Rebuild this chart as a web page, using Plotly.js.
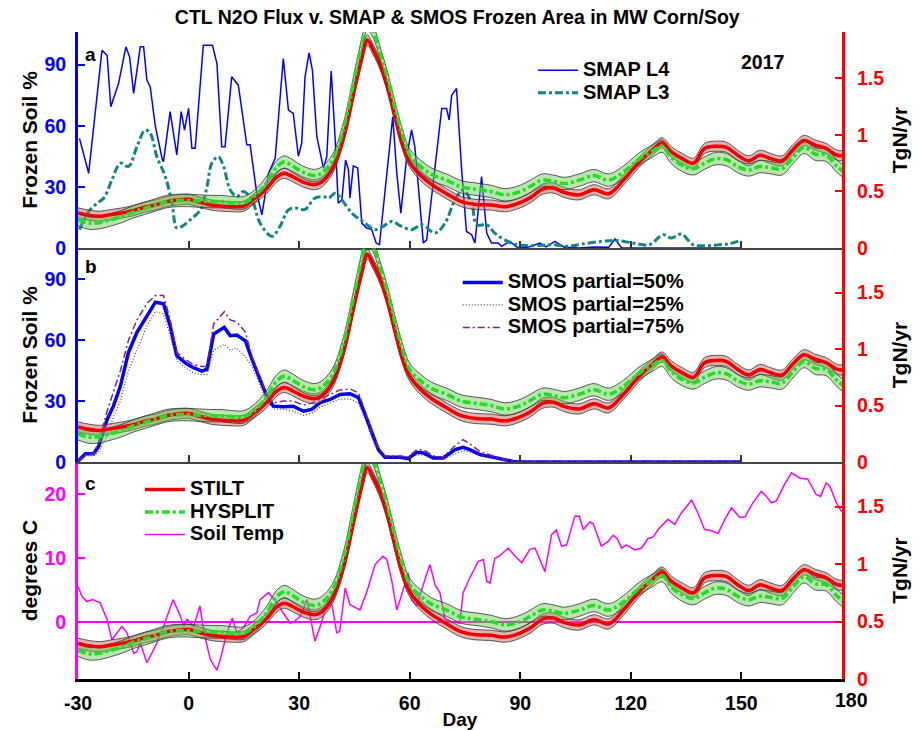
<!DOCTYPE html>
<html><head><meta charset="utf-8">
<script src="https://cdn.plot.ly/plotly-3.0.1.min.js"></script>
<style>html,body{margin:0;padding:0;background:#fff}#chart{width:920px;height:730px}</style>
</head><body><div id="chart"></div>
<script>
// ---------- DATA ----------
const fluxDays = [-30,-27,-24,-21,-18,-15,-12,-9,-6,-3,0,3,6,9,12,15,18,21,24,26,28,31,34,36,39,42,45,47,48.5,50,52,54,56,58,60,63,66,70,74,78,82,86,90,93,96,99,102,106,110,114,118,122,126,128.5,131,134,137,140,143,146,149,152,155,158,161,164,167,170,173,176,180];
const stilt = [0.31,0.29,0.28,0.295,0.31,0.33,0.36,0.38,0.41,0.425,0.43,0.405,0.38,0.37,0.365,0.37,0.44,0.52,0.63,0.66,0.635,0.585,0.56,0.58,0.70,0.97,1.40,1.68,1.84,1.76,1.62,1.42,1.16,0.92,0.76,0.64,0.56,0.48,0.41,0.385,0.38,0.365,0.40,0.45,0.52,0.53,0.49,0.47,0.515,0.48,0.60,0.75,0.87,0.93,0.85,0.79,0.75,0.88,0.90,0.89,0.82,0.77,0.82,0.79,0.77,0.87,0.95,0.91,0.88,0.82,0.82];
const hysplit = [0.25,0.22,0.225,0.25,0.28,0.32,0.35,0.38,0.41,0.42,0.42,0.415,0.41,0.41,0.40,0.40,0.46,0.57,0.72,0.76,0.73,0.67,0.64,0.66,0.77,1.05,1.50,1.80,1.98,1.92,1.72,1.50,1.24,1.00,0.82,0.72,0.65,0.60,0.54,0.52,0.50,0.47,0.50,0.55,0.60,0.59,0.57,0.60,0.64,0.60,0.67,0.78,0.86,0.90,0.80,0.73,0.70,0.75,0.79,0.78,0.72,0.69,0.72,0.71,0.70,0.80,0.89,0.83,0.82,0.72,0.62];
const stiltSpread = 0.045;   // half-width of STILT uncertainty band
const hysplitSpread = 0.055; // half-width of HYSPLIT uncertainty band

const smapL4Days = [-29.6,-27.1,-23.5,-22.1,-21.1,-19,-17,-16,-14.9,-13.1,-12.2,-11.3,-10.4,-9,-7.1,-6.8,-5,-3.2,-2,-1.1,0,0.9,1.8,4,6.5,7.7,9,9.9,11.7,13.5,15.8,16.7,18.5,19.9,21.7,23.5,25.7,27.1,28.4,29.8,30.7,31.6,32.7,33.6,34.8,36.6,37.5,38.7,39.8,40.6,41.6,42.6,43.4,43.8,44.7,45.9,47,48.3,49.7,50.9,51.8,53.8,55.4,56.5,57.6,59.2,60.5,61.4,63.7,64.6,66.9,68.7,70,70.7,71.4,72.7,74.1,75.4,76.8,77.7,79.5,80.9,82.2,84,84.9,87.2,89,92,95.3,97,99.4,102,106,110,114,115.7,117.5,120,125,130,135,140,145,150];
const smapL4 = [53.8,36.7,97,94.6,69.3,80.7,98.7,93.8,75.9,98.7,98.7,82.4,79,59.5,43.2,42.4,66.9,45.7,66.9,57.9,68.5,48.9,48.9,99.5,99.5,90.5,49.7,49.7,84,79.9,50.6,50.6,26.9,16.3,36.7,44,93,67.7,66,45,51.4,84,95.7,87.3,54.6,39.2,44.8,86.9,53,22,23.6,43.2,38.3,24.5,40.3,39.2,12.2,9.8,9,2.4,1.6,38.3,64.4,36.7,17.1,44.8,57.9,49.7,2.4,4,41.6,68.5,68.5,62.8,75,78.3,38.3,8.1,6.5,2.4,35,7.3,2.4,2.4,0.8,3.2,0.5,0.3,2.4,0.5,3.2,0.3,0,0.5,0.3,4.4,0,0,0,0,0,0,0,0];

const smapL3Days = [-29.6,-27.1,-24.8,-23,-20.8,-18.5,-16.3,-14,-11.8,-10.4,-8.6,-6.3,-4.5,-3.2,-1.8,0.4,3.2,5,6.3,8.1,9.5,11.3,13.1,14.9,17.2,19.4,22.6,24.8,27.1,28.9,31.6,34.3,37,38,39.8,41.6,44.3,47.9,50.6,52.8,55.1,57.8,60.5,63.3,66.9,69.6,72.3,74.5,76.8,78.2,80.9,83.1,85.8,89,93.5,98.5,103,107,112.4,116.1,120.6,125.1,128.7,131,133.7,136.9,140.5,144.1,146.8,149.5];
const smapL3 = [9,17.9,22,24.5,33.4,41.6,40,49.7,57.9,56.3,44.8,35,22,9.8,10.6,13.8,18.7,30.1,41.6,44.8,40,28.5,25.3,27.7,23.6,12.2,5.7,10.6,18.7,19.6,18.9,24.5,25,24.5,26.9,23.6,17.1,12.2,9,10.6,13,10.6,9,11.4,7.3,12.2,23.6,28.5,22,11.4,11.4,7.3,4,1.6,1.1,1.6,0.8,2,3.3,3.7,2.4,1.6,6.5,4.9,6.8,1.6,1.1,1.6,2.1,3.6];

const smosDays = [-30,-28,-25.8,-24.4,-22.1,-20.4,-18.5,-16.3,-14,-11.3,-9,-6.8,-5,-3.2,-0.5,1.3,3.6,5,6.8,9.7,11.3,13.1,15.4,17.2,19.4,21.2,23,25.7,28.4,31.2,33.4,35.7,38.4,41.1,43.8,46.1,47.9,49.7,51.5,53.3,57.4,59.6,61.9,63.7,66.4,69.1,72.3,74.5,76.3,79.1,82.7,85.4,88.1,90.8,120,150];
const smos50 = [0.3,4.1,4.1,7.7,20.9,27.5,37.4,54,63.9,72.1,78.7,77.9,67.1,52.3,48.2,46.5,44.8,45.7,63,66.3,62.2,62.5,59.7,50.6,40.7,32.5,27.5,27.2,27.5,25,25.9,29.2,30.8,33.3,33.6,31.7,23.4,14.4,6.1,2.3,2.3,1.7,4.8,4.5,2,2,6.1,7.2,6.1,3.6,2.3,1,0.3,0,0,0];
const smos25 = [0,3,3,5,13,22,30,45,55,67,74,73,62,50,46,44,43,43,55,58,55,56,52,47,38,30,26,26,25,23,24,27,29,31,31,29,21,12,5,2,2,1.5,3.5,3.5,1.5,1.5,4,5.5,5,3,2,0.8,0.2,0,0,0];
const smos75 = [0,4,4,10,25,35,45,60,70,78,82,82,70,54,50,48,47,47,68,74,70,69,64,52,42,33,29,30,30,28,29,31,33,35.5,36,34,25,15,7,3,3,2.5,6,6,3,2.5,8,11,9,5,3,1.5,0.5,0,0,0];

const soilDays = [-30,-28.9,-27.6,-26,-24,-22.1,-20.8,-19.4,-18.1,-16.7,-14.9,-14,-13.1,-11.3,-9,-6.8,-4.2,-2.2,-1.3,-0.4,1.4,3.1,4.2,5.9,7.7,8.6,10.4,11.9,13.1,14.9,16.7,18.5,19.4,21.7,24,25.7,27.6,28.5,30.3,32.1,34.3,35.7,37.9,39,40.2,41,42.5,43.8,46.5,48.3,50.6,52.7,53.8,55.1,56.5,57.4,59.6,60.5,61.9,64.1,65.5,66.9,68.2,69.6,71.5,73.6,74.5,76.3,78.6,80,80.9,81.8,83.1,84.5,86.7,88.5,90.4,92.6,94,96.7,98.5,99.8,101.2,102.6,104.8,106,107.1,108.9,109.8,112,113.8,115.2,116.3,117.5,118.8,121.1,122.9,124.7,126,127.8,130.1,131.9,133.7,136.5,138.2,140,141.5,143.7,145.5,147.3,149.6,151,153.1,155.4,156.8,158.1,159.5,161.7,163.6,165.8,168,170.3,171.5,173,174,175.8,177.1,178,179.4];
const soilTemp = [5.6,4,3.2,3.5,3,0.4,-2.8,-1.7,-0.7,-1.7,-4.9,-4.7,-3.3,-6.4,-3.8,-0.7,3.5,0.9,-0.7,0.4,-0.7,2.5,-1.7,-5.9,-7.6,-5.9,-1.7,0.6,-1.7,-0.9,0.9,1.4,3.5,4.6,3,1.4,-0.2,0,0.9,3.5,-3,-0.7,3.5,2.5,-1.7,-1.5,5.3,2.7,1.9,4.6,9,10.3,9.8,6.6,1.9,3.5,7.7,3.5,2.5,6.6,9,5.8,4.6,0.4,0,-0.2,4.6,6.9,9.5,9.8,6.4,6.1,10,10.4,11.6,10.4,9.3,11.4,11.6,7.9,13.7,14.4,11.9,12.1,16.6,16.6,14.5,15.7,15.4,11.9,12.6,13.6,13.1,11.6,12.1,11.3,11.6,13.1,13.3,14.8,16.1,15.3,17.1,19.1,17.1,14.5,14.4,13.9,16.1,17.9,16.4,16.5,18.7,20.5,19.7,18.7,19,21.6,23.4,22.6,22.4,20,19.7,21.8,21.3,18.7,17.4,17.6,20.7];

const xTickVals = [-30,0,30,60,90,120,150,180];
const xTickText = ['-30','0','30','60','90','120','150','180'];
const xRange = [-30,177.3];

// ---------- STYLE ----------
const F = 'Liberation Sans, Arial, Helvetica, sans-serif';
const fnt = (size,color) => ({family:F,size:size,color:color||'#000',weight:700});
const BLUE='#0000ff', RED='#ff0000', MAG='#ff00ff';
const LEGEND_TEXT_PX = 20;
const big = s => '<span style="font-size:' + LEGEND_TEXT_PX + 'px">' + s + '</span>';

const traces = [];
function addFlux(xa, ya, legendId){
  const bands = [
    {c:stilt, s:stiltSpread, fill:'rgba(205,100,100,0.5)'},
    {c:hysplit, s:hysplitSpread, fill:'rgba(95,200,75,0.45)'}
  ];
  bands.forEach(b=>{
    traces.push({x:fluxDays, y:b.c.map(v=>v-b.s), xaxis:xa, yaxis:ya, mode:'lines',
      line:{color:'#333',width:0.8,shape:'spline'}, showlegend:false, hoverinfo:'skip'});
    traces.push({x:fluxDays, y:b.c.map(v=>v+b.s), xaxis:xa, yaxis:ya, mode:'lines', fill:'tonexty',
      fillcolor:b.fill, line:{color:'#333',width:0.8,shape:'spline'}, showlegend:false, hoverinfo:'skip'});
  });
  traces.push({x:fluxDays, y:stilt, xaxis:xa, yaxis:ya, mode:'lines', name:big('STILT'),
    line:{color:'#ee0000',width:3.5,shape:'spline'}, showlegend:!!legendId, legend:legendId||'legend3'});
  traces.push({x:fluxDays, y:hysplit, xaxis:xa, yaxis:ya, mode:'lines', name:big('HYSPLIT'),
    line:{color:'#22dd22',width:3.5,dash:'8px,3px,3px,3px',shape:'spline'}, showlegend:!!legendId, legend:legendId||'legend3'});
}

// Panel a
traces.push({x:smapL4Days, y:smapL4, xaxis:'x2', yaxis:'y', mode:'lines', name:big('SMAP L4'),
  line:{color:BLUE,width:1.5}, legend:'legend'});
traces.push({x:smapL3Days, y:smapL3, xaxis:'x2', yaxis:'y', mode:'lines', name:big('SMAP L3'),
  line:{color:'#138484',width:3,dash:'8px,3px,3px,3px',shape:'spline'}, legend:'legend'});
addFlux('x2','y2',null);
// Panel b
traces.push({x:smosDays, y:smos50, xaxis:'x3', yaxis:'y3', mode:'lines', name:big('SMOS partial=50%'),
  line:{color:BLUE,width:3.5}, legend:'legend2'});
traces.push({x:smosDays, y:smos25, xaxis:'x3', yaxis:'y3', mode:'lines', name:big('SMOS partial=25%'),
  line:{color:'#5a3a5a',width:1.2,dash:'1px,2px'}, legend:'legend2'});
traces.push({x:smosDays, y:smos75, xaxis:'x3', yaxis:'y3', mode:'lines', name:big('SMOS partial=75%'),
  line:{color:'#802080',width:1.5,dash:'7px,3px,2px,3px'}, legend:'legend2'});
addFlux('x3','y4',null);
// Panel c
addFlux('x','y6','legend3');
traces.push({x:soilDays, y:soilTemp, xaxis:'x', yaxis:'y5', mode:'lines', name:big('Soil Temp'),
  line:{color:MAG,width:1.5}, legend:'legend3'});

// ---------- LAYOUT ----------
const domC=[0,0.3354], domB=[0.3354,0.6662], domA=[0.6662,1];
const TICK = 19.5;
function xax(anchor, labels){
  return {anchor:anchor, range:xRange, domain:[0,1], showline:true,
    linecolor: labels? '#000':'#444', linewidth: labels?2.5:2, ticks:'inside', ticklen:7, tickwidth:2,
    tickcolor: labels?'#000':'#333', tickvals:xTickVals, ticktext:xTickText, showticklabels:labels,
    tickfont:fnt(TICK), ticklabelstandoff:5, showgrid:false, zeroline:false, fixedrange:true};
}
function leftY(dom, anchor, range, tv, color, title){
  return {domain:dom, anchor:anchor, range:range, tickvals:tv, showline:true, linecolor:color, linewidth:3,
    ticks:'inside', ticklen:7, tickwidth:2, tickcolor:color, tickfont:fnt(TICK,color), showgrid:false,
    zeroline:false, ticklabelstandoff:5, title:{text:title, font:fnt(21), standoff:2}};
}
function rightY(over, anchor, range){
  return {overlaying:over, anchor:anchor, side:'right', range:range, tickvals:[0,0.5,1,1.5],
    ticktext:['0','0.5','1','1.5'], showline:true, linecolor:RED, linewidth:3, ticks:'inside', ticklen:7,
    tickwidth:2, tickcolor:RED, tickfont:fnt(TICK,RED), showgrid:false, zeroline:false, ticklabelstandoff:8,
    title:{text:'TgN/yr', font:fnt(21), standoff:10}};
}
const xFrac = v => (v - xRange[0])/(xRange[1]-xRange[0]);
const legBase = {bgcolor:'rgba(0,0,0,0)', borderwidth:0, font:fnt(15), xanchor:'left', yanchor:'top',
  tracegroupgap:0, itemwidth:40, traceorder:'normal'};

const xa = xax('y5', true);
xa.title = {text:'Day', font:fnt(19), standoff:2};

const layout = {
  width:920, height:730, paper_bgcolor:'#fff', plot_bgcolor:'rgba(0,0,0,0)',
  margin:{l:78, r:78, t:32, b:51},
  title:{text:'CTL N2O Flux v. SMAP & SMOS Frozen Area in MW Corn/Soy', font:fnt(19.5),
    x:0.497, xref:'container', y:0.976, yref:'container', yanchor:'middle', xanchor:'center'},
  xaxis: xa,
  xaxis2: xax('y', false),
  xaxis3: xax('y3', false),
  yaxis: leftY(domA,'x2',[0,106],[0,30,60,90],BLUE,'Frozen Soil %'),
  yaxis2: rightY('y','x2',[0,1.91]),
  yaxis3: leftY(domB,'x3',[0,105.4],[0,30,60,90],BLUE,'Frozen Soil %'),
  yaxis4: rightY('y3','x3',[0,1.896]),
  yaxis5: Object.assign(leftY(domC,'x',[-8.95,25.1],[0,10,20],MAG,'degrees C'),
    {zeroline:true, zerolinecolor:MAG, zerolinewidth:1.5}),
  yaxis6: rightY('y5','x',[0,1.888]),
  legend: Object.assign({}, legBase, {x:0.5955, y:0.966}),
  legend2: Object.assign({}, legBase, {x:0.497, y:0.638}),
  legend3: Object.assign({}, legBase, {x:0.081, y:0.318}),
  showlegend:true,
  annotations:[
    {text:'a', xref:'paper', yref:'paper', x:0.016, y:0.9645, showarrow:false, font:fnt(19), xanchor:'center', yanchor:'middle'},
    {text:'b', xref:'paper', yref:'paper', x:0.017, y:0.6368, showarrow:false, font:fnt(19), xanchor:'center', yanchor:'middle'},
    {text:'c', xref:'paper', yref:'paper', x:0.016, y:0.3029, showarrow:false, font:fnt(19), xanchor:'center', yanchor:'middle'},
    {text:'2017', xref:'paper', yref:'paper', x:0.8953, y:0.9536, showarrow:false, font:fnt(19.5), xanchor:'center', yanchor:'middle'},
    {text:xTickText[xTickText.length-1], xref:'paper', yref:'paper', x:xFrac(xTickVals[xTickVals.length-1]), y:-0.0325,
     showarrow:false, font:fnt(TICK), xanchor:'center', yanchor:'middle'}
  ]
};
Plotly.newPlot('chart', traces, layout, {staticPlot:true, displayModeBar:false});
</script></body></html>
